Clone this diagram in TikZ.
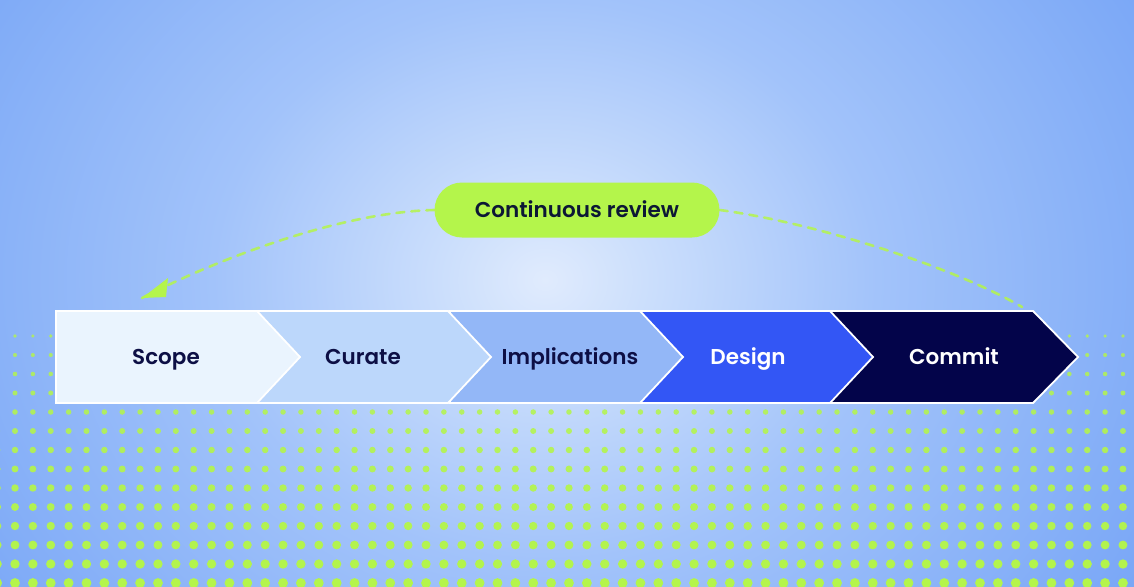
\documentclass[tikz,border=0pt]{standalone}
\usepackage{fontspec}
\setmainfont{Poppins}
\newfontfamily\popm{Poppins SemiBold}
\usetikzlibrary{arrows.meta}
\definecolor{bgin}{HTML}{E0EBFD}
\definecolor{bgintwo}{HTML}{CCDFFC}
\definecolor{bgmid}{HTML}{A2C3FA}
\definecolor{bgout}{HTML}{6A9CF5}
\definecolor{lime}{HTML}{B4F54B}
\definecolor{navy}{HTML}{0D0F45}
\definecolor{pilltext}{HTML}{0C1735}
\definecolor{cscope}{HTML}{EAF4FE}
\definecolor{ccurate}{HTML}{BCD7FB}
\definecolor{cimpl}{HTML}{93B7F7}
\definecolor{cdesign}{HTML}{3356F5}
\definecolor{ccommit}{HTML}{03044A}
\pgfdeclareradialshading{bgshade}{\pgfpoint{0bp}{0bp}}{color(0bp)=(bgin); color(3bp)=(bgintwo); color(10bp)=(bgmid); color(25bp)=(bgout); color(50bp)=(bgout)}
\newcommand\mychev[4]{\filldraw[chevbox, fill=#4] (#1,311) -- (#2,311) -- (#3,357) -- (#2,403) -- (#1,403) -- cycle;}
\begin{document}
\begin{tikzpicture}[x=1pt,y=-1pt,
  chevbox/.style={draw=white, line width=1.8pt, line join=miter},
  lbl/.style={font=\popm\fontsize{21.5}{24}\selectfont, inner sep=0pt, anchor=base},
  pill/.style={fill=lime, minimum width=285pt, minimum height=55pt, rounded corners=27.5pt, inner sep=0pt},
  pilllbl/.style={text=pilltext, font=\popm\fontsize{21.5}{24}\selectfont, inner sep=0pt, anchor=base},
  dashline/.style={draw=lime, draw opacity=0.85, line width=2.6pt, dash pattern=on 8pt off 7pt, line cap=round}
]
\useasboundingbox (0,0) rectangle (1134,586);
\begin{scope}
\clip (0,0) rectangle (1134,586);
\fill[bgout] (0,0) rectangle (1134,586);
\shade[shading=bgshade] (545,280) ellipse [x radius=830, y radius=700];
\foreach \r in {0,...,13} {
  \pgfmathsetmacro\yy{336+19*\r}
  \pgfmathsetmacro\rad{1.8+0.24*\r}
  \pgfmathsetmacro\op{0.8+0.016*\r}
  \foreach \c in {-1,...,62} {
    \fill[lime, opacity=\op] (15+17.87*\c, \yy) circle[radius=\rad];
  }
}
\end{scope}
% chevrons, right to left so tips overlap
\mychev{830}{1033}{1078}{ccommit}
\mychev{640}{830}{873}{cdesign}
\mychev{450}{640}{683}{cimpl}
\mychev{257}{448}{491}{ccurate}
\mychev{56}{257}{300}{cscope}
\node[lbl, text=navy] (scope) at (166,364) {Scope};
\node[lbl, text=navy] (curate) at (363,364) {Curate};
\node[lbl, text=navy] (impl) at (570,364) {Implications};
\node[lbl, text=white] (design) at (748,364) {Design};
\node[lbl, text=white] (commit) at (954,364) {Commit};
% review loop
\node[pill] (rev) at (577,210) {};
\node[pilllbl] (revtext) at (577,217) {Continuous review};
\coordinate (atip) at (142,298);
\coordinate (rend) at (1022,307);
\draw[dashline] (rev.west) .. controls (340,212) and (215,260) .. (atip);
\fill[lime] (atip) -- (168,278) -- (166,297) -- cycle;
\draw[dashline] (rev.east) .. controls (810,222) and (950,265) .. (rend);
\end{tikzpicture}
\end{document}
